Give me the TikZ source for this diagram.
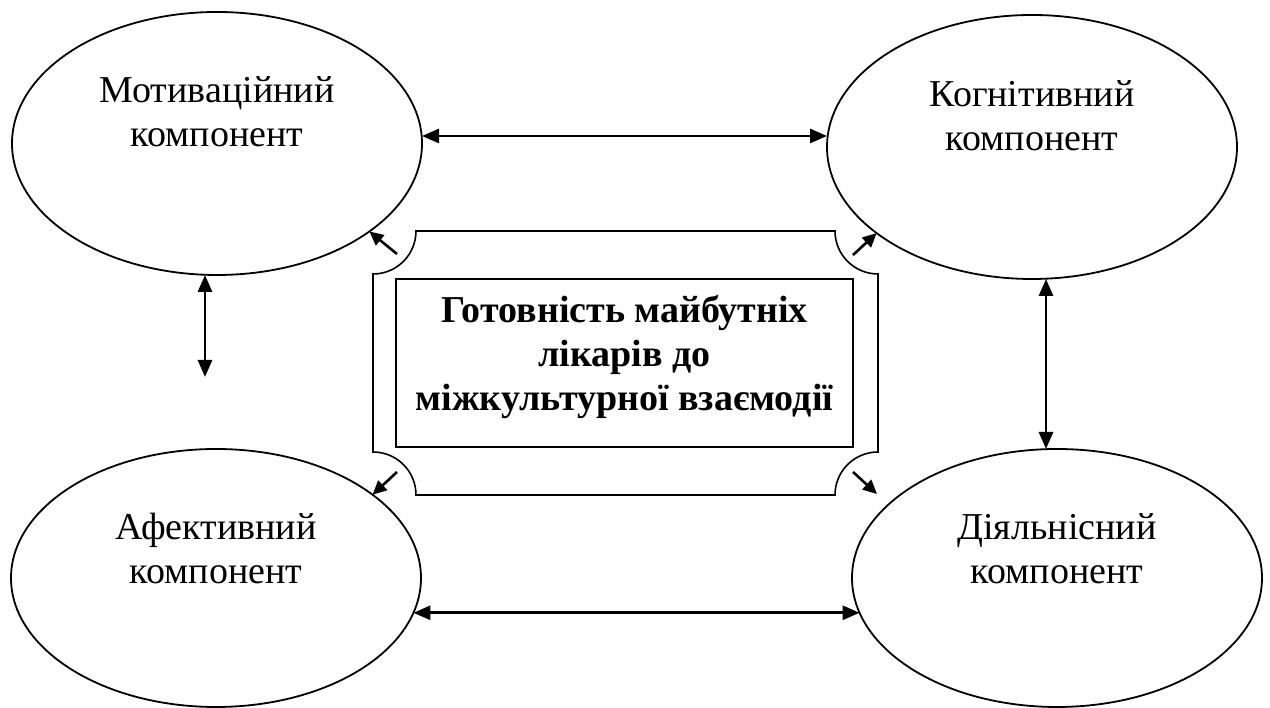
\documentclass[tikz,border=0pt]{standalone}
\usepackage{fontspec}
\setmainfont{Liberation Serif}
\usetikzlibrary{shapes.geometric,arrows.meta}

\begin{document}
\begin{tikzpicture}[x=1pt,y=1pt,
    comp style/.style={draw,ellipse,line width=1.8pt,minimum width=410pt,minimum height=263pt,inner sep=0pt,outer sep=0pt},
    label style/.style={align=center,font=\fontsize{38}{44}\selectfont},
    goal style/.style={draw,line width=1.6pt,minimum width=457pt,minimum height=168pt,inner sep=0pt},
    arr style/.style={line width=2.8pt,{Triangle[length=17pt,width=14pt]}-{Triangle[length=17pt,width=14pt]}},
    diag style/.style={line width=2.6pt,-{Triangle[length=14pt,width=13pt]}}]
    \useasboundingbox (0,0) rectangle (1270,708);
    % the four components
    \node[comp style] (motiv) at (217,564.5) {};
    \node[comp style,minimum height=264pt] (cogn) at (1032,561) {};
    \node[comp style,minimum height=258pt] (afekt) at (216,130) {};
    \node[comp style,minimum height=258pt] (diyal) at (1057,130) {};
    \node[label style] (motivtext) at ([yshift=31.5]motiv.center) {Мотиваційний\\компонент};
    \node[label style] (cogntext) at ([yshift=31.5]cogn.center) {Когнітивний\\компонент};
    \node[label style] (afekttext) at ([yshift=29.5]afekt.center) {Афективний\\компонент};
    \node[label style] (diyaltext) at ([yshift=29.5]diyal.center) {Діяльнісний\\компонент};
    % plaque with concave corners
    \draw[line width=1.6pt] (416,477) -- (835,477) arc[start angle=180,end angle=270,radius=43]
        -- (878,256) arc[start angle=90,end angle=180,radius=43]
        -- (416,213) arc[start angle=0,end angle=90,radius=43]
        -- (373,434) arc[start angle=270,end angle=360,radius=43] -- cycle;
    \node[goal style] (goal) at (624.5,345) {};
    \node[label style,font=\fontsize{38}{44}\selectfont\bfseries] (goaltext) at ([yshift=5.5]goal.center)
        {Готовність майбутніх\\лікарів до\\міжкультурної взаємодії};
    % links between components
    \coordinate (lend) at (205,331);
    \coordinate (rtop) at (1046,0);
    \draw[arr style] ([yshift=7.5]motiv.east) -- ([yshift=11]cogn.west);
    \draw[arr style] (afekt.-10.7) -- (diyal.190.7);
    \draw[arr style] (lend |- motiv.south) -- (lend);
    \draw[arr style] (rtop |- cogn.south) -- (rtop |- diyal.north);
    % from the plaque outward
    \coordinate (tl) at (397,454);
    \coordinate (tr) at (853,453);
    \coordinate (bl) at (397,236);
    \coordinate (br) at (853,236);
    \draw[diag style] (tl) -- (motiv.-30);
    \draw[diag style] (tr) -- (cogn.209);
    \draw[diag style] (bl) -- (afekt.28);
    \draw[diag style] (br) -- (877,214);
\end{tikzpicture}
\end{document}
